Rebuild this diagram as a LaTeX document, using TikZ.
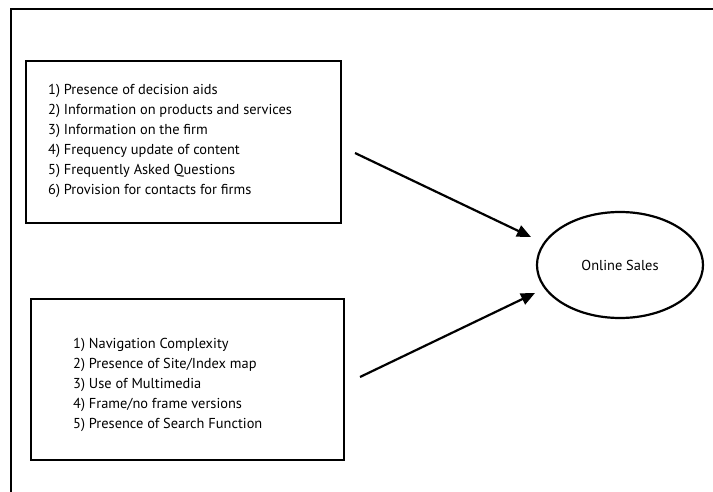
\documentclass[tikz,border=0pt]{standalone}
\usepackage{fontspec}
\setmainfont{PT Sans}
\usetikzlibrary{arrows.meta,shapes.geometric}
\begin{document}
\begin{tikzpicture}[x=1pt,y=-1pt,
  outline/.style={draw=black, line width=2.2pt},
  itembox/.style={outline, rectangle, inner sep=0pt, anchor=north west},
  itemlist/.style={anchor=north west, inner sep=0pt, align=left,
    font=\fontsize{14.4}{20}\selectfont},
  target/.style={outline, ellipse, minimum width=166pt, minimum height=106pt,
    inner sep=0pt, font=\fontsize{14.4}{16}\selectfont},
  link/.style={line width=2.2pt, -{Triangle[length=14pt,width=12pt]}}]
\useasboundingbox (0,0) rectangle (713,492);
\begin{scope}
  \clip (0,0) rectangle (713,492);
  % open outer frame: only its top and left sides fall inside the page
  \draw[outline] (11,9) rectangle (740,520);
\end{scope}
% content factors
\node[itembox, minimum width=315pt, minimum height=162pt] (content) at (25,60) {};
\node[itemlist] (contentlist) at (48,84) {1) Presence of decision aids\\
2) Information on products and services\\
3) Information on the firm\\
4) Frequency update of content\\
5) Frequently Asked Questions\\
6) Provision for contacts for firms};
% design factors
\node[itembox, minimum width=313pt, minimum height=161pt] (design) at (30,298) {};
\node[itemlist] (designlist) at (73,338) {1) Navigation Complexity\\
2) Presence of Site/Index map\\
3) Use of Multimedia\\
4) Frame/no frame versions\\
5) Presence of Search Function};
% outcome
\node[target] (sales) at (620,265) {Online Sales};
\coordinate (c1) at (355,153);
\coordinate (c1t) at (531,237);
\coordinate (d1) at (360,377);
\coordinate (d1t) at (535,293);
\draw[link] (c1) -- (c1t);
\draw[link] (d1) -- (d1t);
\end{tikzpicture}
\end{document}
